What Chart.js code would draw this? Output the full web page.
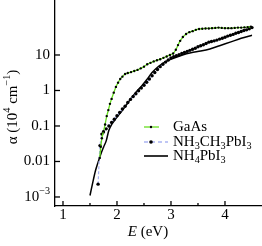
<!DOCTYPE html>
<html>
<head>
<meta charset="utf-8">
<script src="https://cdn.jsdelivr.net/npm/chart.js@4/dist/chart.umd.min.js"></script>
<style>
  html, body { margin: 0; padding: 0; background: #fff; }
  #c { display: block; }
</style>
</head>
<body>
<canvas id="c" width="262" height="246"></canvas>
<script>
// photon energy (eV) and absorption coefficient (10^4 cm^-1)
const gaasE = [1.68, 1.70, 1.72, 1.75, 1.78, 1.81, 1.84, 1.87, 1.90, 1.94, 1.98, 2.02, 2.06, 2.10, 2.15, 2.20,
  2.26, 2.32, 2.38, 2.44, 2.50, 2.56, 2.62, 2.68, 2.74, 2.80, 2.86, 2.92, 2.98, 3.04, 3.09, 3.13, 3.17, 3.22,
  3.28, 3.34, 3.40, 3.46, 3.52, 3.58, 3.64, 3.70, 3.76, 3.82, 3.88, 3.94, 4.00, 4.06, 4.12, 4.18, 4.24, 4.30,
  4.36, 4.42, 4.48];
const gaasAlpha = [0.0126, 0.026, 0.045, 0.071, 0.11, 0.19, 0.28, 0.42, 0.58, 0.87, 1.26, 1.66, 2.1, 2.45, 2.9, 3.1,
  3.3, 3.55, 3.8, 4.2, 4.7, 5.5, 6.0, 6.6, 7.1, 7.6, 8.3, 9.1, 10, 11, 14, 19, 25, 32,
  39, 44, 47, 51, 54, 55, 56, 56, 57, 58, 59, 58, 57, 57, 57, 58, 59, 59,
  60, 61, 63];

const maE = [1.65, 1.685, 1.72, 1.75, 1.80, 1.85, 1.90, 1.95, 2.00, 2.05, 2.10, 2.15, 2.20, 2.25, 2.30, 2.35,
  2.40, 2.45, 2.50, 2.55, 2.60, 2.65, 2.70, 2.75, 2.80, 2.85, 2.90, 2.95, 3.00, 3.05, 3.10, 3.15, 3.20, 3.25,
  3.30, 3.35, 3.40, 3.45, 3.50, 3.55, 3.60, 3.65, 3.70, 3.75, 3.80, 3.85, 3.90, 3.95, 4.00, 4.05, 4.10, 4.15,
  4.20, 4.25, 4.30, 4.35, 4.40, 4.45, 4.50];
const maAlpha = [0.0023, 0.028, 0.059, 0.068, 0.083, 0.10, 0.126, 0.155, 0.195, 0.24, 0.30, 0.36, 0.46, 0.56, 0.68, 0.81,
  0.98, 1.17, 1.4, 1.7, 2.1, 2.6, 3.2, 3.9, 4.7, 5.5, 6.3, 7.2, 8.3, 8.9, 9.5, 10.2, 11, 11.7,
  12.6, 13.5, 14.5, 15.5, 17, 18.2, 19.5, 21, 23, 24, 25, 26.3, 28, 29.5, 31.6, 34, 36, 38,
  41, 43, 46, 49, 51, 55, 59];

const nh4E = [1.50, 1.55, 1.60, 1.65, 1.70, 1.75, 1.80, 1.85, 1.90, 1.95, 2.00, 2.06, 2.15, 2.24, 2.35, 2.45,
  2.55, 2.65, 2.75, 2.85, 2.95, 3.07, 3.20, 3.37, 3.55, 3.72, 3.90, 4.11, 4.30, 4.50];
const nh4Alpha = [0.0011, 0.0025, 0.0054, 0.0095, 0.016, 0.025, 0.038, 0.076, 0.11, 0.14, 0.18, 0.23, 0.35, 0.54, 0.89, 1.3,
  2.0, 3.2, 4.5, 5.8, 7.1, 8.3, 9.8, 11.5, 12.9, 14.8, 18.2, 23.4, 29.5, 36];

const xTicks = [1, 2, 3, 4];
const xMinorTicks = [1.5, 2.5, 3.5];
const yTicks = [0.001, 0.01, 0.1, 1, 10];
// each label as rich-text pieces (10^-3 needs a superscript)
const yTickLabels = [
  [{ t: '10' }, { t: '\u22123', sup: true }],
  [{ t: '0.01' }],
  [{ t: '0.1' }],
  [{ t: '1' }],
  [{ t: '10' }]
];

const GREEN = '#66dd1f';
const LAVENDER = '#aab4f2';
const SERIF = '"Liberation Serif", "Times New Roman", serif';

const toPoints = (xs, ys) => xs.map((x, i) => ({ x: x, y: ys[i] }));

// draws text made of normal / superscript / subscript pieces
function drawRich(ctx, parts, x, y, size, align) {
  const widthOf = (p) => {
    ctx.font = (p.italic ? 'italic ' : '') + (p.sup || p.sub ? size * 0.68 : size) + 'px ' + SERIF;
    return ctx.measureText(p.t).width;
  };
  const total = parts.reduce((acc, p) => acc + widthOf(p), 0);
  let cx = x;
  if (align === 'center') cx = x - total / 2;
  if (align === 'right') cx = x - total;
  ctx.textBaseline = 'middle';
  ctx.textAlign = 'left';
  parts.forEach(p => {
    const w = widthOf(p);
    let dy = 0;
    if (p.sup) dy = -size * 0.35;
    if (p.sub) dy = size * 0.3;
    ctx.fillText(p.t, cx, y + dy);
    cx += w;
  });
}

const decorations = {
  id: 'decorations',
  afterDraw(chart) {
    const ctx = chart.ctx;
    const xs = chart.scales.x;
    const ys = chart.scales.y;
    const area = chart.chartArea;
    ctx.save();
    ctx.strokeStyle = '#000';
    ctx.fillStyle = '#000';
    ctx.lineWidth = 1.3;

    // inward tick marks and tick labels
    xTicks.forEach(v => {
      const px = xs.getPixelForValue(v);
      ctx.beginPath(); ctx.moveTo(px, area.bottom); ctx.lineTo(px, area.bottom - 5); ctx.stroke();
      drawRich(ctx, [{ t: String(v) }], px, area.bottom + 9, 15, 'center');
    });
    xMinorTicks.forEach(v => {
      const px = xs.getPixelForValue(v);
      ctx.beginPath(); ctx.moveTo(px, area.bottom); ctx.lineTo(px, area.bottom - 3); ctx.stroke();
    });
    yTicks.forEach((v, i) => {
      const py = ys.getPixelForValue(v);
      ctx.beginPath(); ctx.moveTo(area.left, py); ctx.lineTo(area.left + 5, py); ctx.stroke();
      drawRich(ctx, yTickLabels[i], area.left - 5, py, 15, 'right');
    });

    // axis titles
    drawRich(ctx, [{ t: 'E', italic: true }, { t: ' (eV)' }], 148, 232, 15, 'center');
    ctx.save();
    ctx.translate(13, 107);
    ctx.rotate(-Math.PI / 2);
    drawRich(ctx, [{ t: '\u03B1 (10' }, { t: '4', sup: true }, { t: ' cm' }, { t: '\u22121', sup: true }, { t: ')' }], 0, 0, 15, 'center');
    ctx.restore();

    // legend
    const lx0 = 144, lx1 = 168, tx = 173;
    const rows = [127, 142, 156];
    ctx.lineWidth = 1.3;
    ctx.strokeStyle = GREEN;
    ctx.beginPath(); ctx.moveTo(lx0, rows[0]); ctx.lineTo(159, rows[0]); ctx.stroke();
    ctx.beginPath(); ctx.arc(151, rows[0], 1.2, 0, Math.PI * 2); ctx.fill();
    ctx.strokeStyle = LAVENDER;
    ctx.setLineDash([4, 3]);
    ctx.beginPath(); ctx.moveTo(lx0, rows[1]); ctx.lineTo(lx1, rows[1]); ctx.stroke();
    ctx.setLineDash([]);
    ctx.beginPath(); ctx.arc(151, rows[1], 1.8, 0, Math.PI * 2); ctx.fill();
    ctx.strokeStyle = '#000';
    ctx.lineWidth = 1.6;
    ctx.beginPath(); ctx.moveTo(lx0, rows[2]); ctx.lineTo(lx1, rows[2]); ctx.stroke();

    drawRich(ctx, [{ t: 'GaAs' }], tx, rows[0], 15, 'left');
    drawRich(ctx, [{ t: 'NH' }, { t: '3', sub: true }, { t: 'CH' }, { t: '3', sub: true }, { t: 'PbI' }, { t: '3', sub: true }], tx, rows[1], 15, 'left');
    drawRich(ctx, [{ t: 'NH' }, { t: '4', sub: true }, { t: 'PbI' }, { t: '3', sub: true }], tx, rows[2], 15, 'left');
    ctx.restore();
  }
};

const ctx = document.getElementById('c').getContext('2d');

const chart = new Chart(ctx, {
  type: 'line',
  data: {
    datasets: [
      {
        label: 'GaAs',
        data: toPoints(gaasE, gaasAlpha),
        borderColor: GREEN,
        borderWidth: 1.3,
        pointRadius: 1.2,
        pointBackgroundColor: '#000',
        pointBorderWidth: 0,
        tension: 0.2
      },
      {
        label: 'NH3CH3PbI3',
        data: toPoints(maE, maAlpha),
        borderColor: LAVENDER,
        borderWidth: 1.2,
        borderDash: [3, 2],
        pointRadius: 1.7,
        pointBackgroundColor: '#000',
        pointBorderWidth: 0,
        tension: 0.2
      },
      {
        label: 'NH4PbI3',
        data: toPoints(nh4E, nh4Alpha),
        borderColor: '#000',
        borderWidth: 1.5,
        pointRadius: 0,
        tension: 0.3
      }
    ]
  },
  options: {
    responsive: false,
    animation: false,
    layout: { autoPadding: false, padding: { left: 0, right: 1, top: 0, bottom: 0 } },
    scales: {
      x: {
        type: 'linear',
        min: 0.852,
        max: 4.667,
        afterBuildTicks: (scale) => { scale.ticks = xTicks.map(v => ({ value: v })); },
        afterFit: (scale) => { scale.height = 40; },
        grid: { display: false, drawTicks: false },
        border: { display: true, color: '#000', width: 1.3 },
        ticks: { display: false }
      },
      y: {
        type: 'logarithmic',
        min: 0.000557,
        max: 354,
        afterBuildTicks: (scale) => { scale.ticks = yTicks.map(v => ({ value: v })); },
        afterFit: (scale) => { scale.width = 55; },
        grid: { display: false, drawTicks: false },
        border: { display: true, color: '#000', width: 1.3 },
        ticks: { display: false }
      }
    },
    plugins: {
      legend: { display: false },
      tooltip: { enabled: false },
      title: { display: false }
    }
  },
  plugins: [decorations]
});
</script>
</body>
</html>
